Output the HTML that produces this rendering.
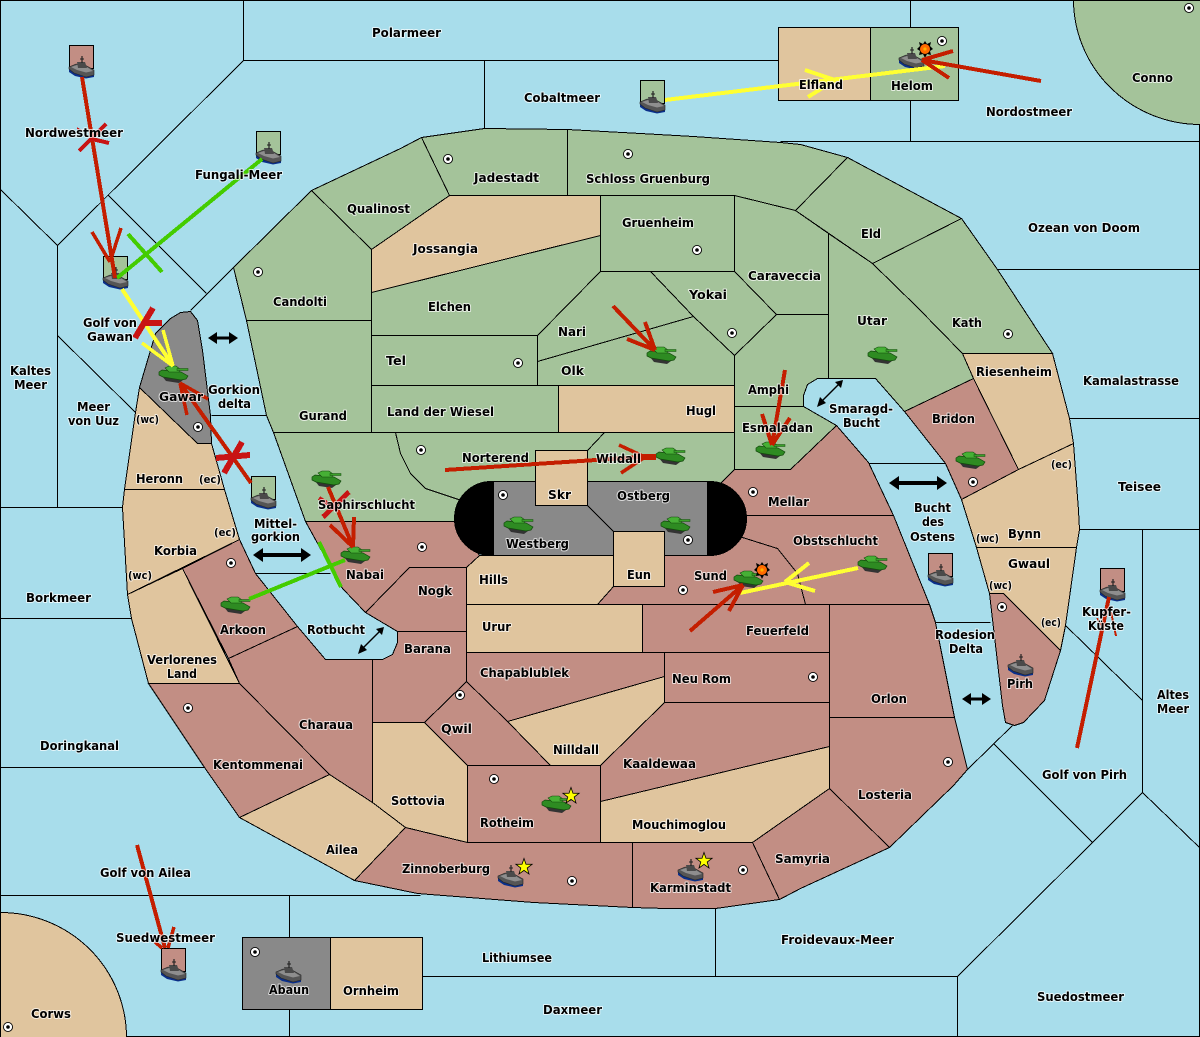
<!DOCTYPE html>
<html><head><meta charset="utf-8"><title>Map</title>
<style>
html,body{margin:0;padding:0;background:#a8ddeb}
svg{display:block}
.s{fill:none;stroke:#000;stroke-width:1}
.l polygon,.l path,.l rect{stroke:#000;stroke-width:1}
.g{fill:#a4c39a}.t{fill:#e0c59e}.r{fill:#c28e84}.y{fill:#898989}
.lab text{font:bold 12px "DejaVu Sans",sans-serif;fill:#000;paint-order:stroke;stroke:rgba(255,255,255,.7);stroke-width:2px;stroke-linejoin:round}
.lab text.m{font-size:10.5px}
.red line{stroke:#c41e00;stroke-width:4;stroke-linecap:butt}
.red line.b{stroke-width:3.5}
.cr line{stroke:#c81414;stroke-width:6}
.cr line.n{stroke-width:4}
.gr line{stroke:#44cc00;stroke-width:4}
.ye line{stroke:#ffff33;stroke-width:4}
.ye line.b{stroke-width:3.5}
</style></head><body>
<svg xmlns="http://www.w3.org/2000/svg" width="1200" height="1037" viewBox="0 0 1200 1037">
<defs>
<g id="tank">
<polygon points="3,10 23,13 24,14 20,17 7,15" fill="#333"/>
<polygon points="0,6 3,4 22,6 29,10 27,13 22,14 4,11 0,9" fill="#2e8b22" stroke="#134a0c" stroke-width=".7"/>
<polygon points="6,2 10,0 17,0 21,3 20,6 10,6" fill="#46b035" stroke="#134a0c" stroke-width=".6"/>
<rect x="18" y="2.500" width="11" height="2" fill="#3aa02a" stroke="#134a0c" stroke-width=".5"/>
</g>
<g id="ship">
<polygon points="0,13 5,17 17,21 25,19 25,21 17,22.500 6,20 0,16" fill="#0a2f8a"/>
<polygon points="0,11 7,8 16,9 25,14 25,19 17,21 5,17 0,13" fill="#555" stroke="#222" stroke-width=".6"/>
<polygon points="2,11 8,9 17,10.500 24,15 17,16.500 8,14" fill="#8e8e8e"/>
<polygon points="8,6 16,6 18,12 9,12" fill="#4a4a4a"/>
<line x1="13" y1="0" x2="13" y2="7" stroke="#222" stroke-width="1.200"/>
<line x1="11" y1="3" x2="15" y2="3" stroke="#222" stroke-width="1"/>
</g>
<g id="dot"><circle r="5" fill="#000"/><circle r="4.1" fill="#fff"/><circle r="1.8" fill="#000"/></g>
<polygon id="star" points="0,-8.500 2,-2.800 8.100,-2.700 3.200,1 5,7 0,3.400 -5,7 -3.200,1 -8.100,-2.700 -2,-2.800" fill="#ff0" stroke="#000" stroke-width=".8"/>
<g id="boom"><polygon points="0,-8 2,-5 6,-7 5,-3 8,0 5,2 6,6 2,5 0,9 -2,5 -6,6 -5,2 -8,0 -5,-3 -6,-7 -2,-5" fill="#000"/><circle r="5" fill="#ff6a00"/><circle r="1.6" fill="#ffb000"/></g>
</defs>

<rect width="1200" height="1037" fill="#a8ddeb"/>

<g transform="translate(.5 .5)" shape-rendering="crispEdges">
<g class="s">
<rect x="0" y="0" width="1199" height="1036"/>
<path d="M243 0V60H778"/><path d="M243 60L57 245V507"/><path d="M57 245L0 189"/>
<path d="M108 195L206 293"/><path d="M233 267L190 310"/>
<path d="M57 335L135 412"/><path d="M0 507H122"/><path d="M0 618H131"/><path d="M0 767H204"/>
<path d="M0 895H420"/><path d="M289 895V937M289 1009V1037"/>
<path d="M422 976H957V1037"/><path d="M715 908V976"/>
<path d="M957 976L1092 842L993 743"/><path d="M1092 842L1142 792L1200 848"/>
<path d="M1142 792V529"/><path d="M1078 529H1200"/>
<path d="M1065 625L1142 700"/><path d="M1069 418H1200"/><path d="M997 269H1200"/>
<path d="M780 141H1200"/><path d="M910 0V27M910 100V141"/><path d="M484 60V128"/>
<path d="M967 769L1012 725"/>
<path d="M935 622H990"/><path d="M868 463H945"/><path d="M211 415H266"/><path d="M255 573H330"/>
</g>

<g class="l">
<path class="g" d="M1073 0A127 125 0 0 0 1200 124V0Z"/>
<path class="t" d="M0 912A126 125 0 0 1 126 1037H0Z"/>
<rect class="t" x="778" y="27" width="92" height="73"/>
<rect class="g" x="870" y="27" width="88" height="73"/>
<rect class="y" x="242" y="937" width="88" height="72"/>
<rect class="t" x="330" y="937" width="92" height="72"/>

<polygon class="g" points="233,267 311,190 371,249 371,320 246,320"/>
<polygon class="g" points="311,190 400,148 421,137 449,195 371,249"/>
<polygon class="g" points="421,137 484,128 567,129 567,195 449,195"/>
<polygon class="g" points="567,129 640,133 693,136 780,142 800,144 847,157 795,210 734,195 567,195"/>
<polygon class="t" points="449,195 600,195 600,235 371,292 371,249"/>
<polygon class="g" points="600,195 734,195 734,271 600,271"/>
<polygon class="g" points="734,195 795,210 828,233 828,314 776,314 734,271"/>
<polygon class="g" points="847,157 961,218 872,263 795,210"/>
<polygon class="g" points="961,218 997,269 1052,353 962,353 917,307 872,263"/>
<polygon class="g" points="828,233 872,263 917,307 962,353 973,378 904,411 875,378 828,378"/>
<polygon class="g" points="776,314 828,314 828,378 817,378 807,384 803,395 803,406 734,406 734,355"/>
<polygon class="g" points="734,406 803,406 836,425 790,469 734,469"/>
<polygon class="g" points="650,271 734,271 776,314 734,355 693,316"/>
<polygon class="g" points="600,271 650,271 693,316 537,361 537,335"/>
<polygon class="g" points="537,361 693,316 734,355 734,385 537,385"/>
<polygon class="g" points="371,292 600,235 600,271 537,335 371,335"/>
<polygon class="g" points="371,335 537,335 537,385 371,385"/>
<polygon class="g" points="371,385 558,385 558,432 371,432"/>
<polygon class="t" points="558,385 734,385 734,432 558,432"/>
<polygon class="g" points="246,320 371,320 371,432 273,432 266,415"/>
<polygon class="g" points="273,432 395,432 400,453 410,473 425,488 458,499 490,510 460,521 305,521"/>
<polygon class="g" points="395,432 604,432 587,450 587,500 490,500 458,499 425,488 410,473 400,453"/>
<polygon class="g" points="604,432 734,432 734,469 722,481 700,500 587,500 587,450"/>

<polygon class="r" points="722,481 734,469 790,469 836,425 868,462 893,515 746,515 700,515 700,500"/>
<polygon class="r" points="746,515 893,515 929,604 805,604 797,573 777,548 742,537 700,530"/>
<polygon class="r" points="597,604 613,586 664,586 664,545 742,537 777,548 797,573 805,604"/>
<polygon class="r" points="305,521 460,521 479,555 466,567 409,567 365,612 342,588"/>
<polygon class="t" points="466,567 479,555 613,555 613,586 597,604 466,604"/>
<polygon class="t" points="466,604 642,604 642,652 466,652"/>
<polygon class="r" points="642,604 829,604 829,652 642,652"/>
<polygon class="r" points="409,567 466,567 466,631 397,631 365,612"/>
<polygon class="r" points="397,631 466,631 466,681 424,722 372,722 372,659 382,659 392,654 397,642"/>
<polygon class="r" points="466,652 664,652 664,676 507,721 466,681"/>
<polygon class="r" points="664,652 829,652 829,702 664,702"/>
<polygon class="t" points="507,721 664,676 664,702 600,765 550,765"/>
<polygon class="r" points="466,681 507,721 550,765 467,765 424,722"/>
<polygon class="r" points="664,702 829,702 829,746 600,801 600,765"/>
<polygon class="t" points="600,801 829,746 829,788 752,842 600,842"/>
<polygon class="r" points="467,765 600,765 600,842 467,842"/>
<polygon class="t" points="372,722 424,722 467,765 467,842 405,827 372,802"/>
<polygon class="r" points="182,568 239,539 255,573 297,626 228,658"/>
<polygon class="r" points="228,658 297,626 325,659 372,659 372,802 329,774 239,683"/>
<polygon class="r" points="148,683 239,683 329,774 239,817 204,767"/>
<polygon class="t" points="239,817 329,774 372,802 405,827 354,880"/>
<polygon class="r" points="354,880 405,827 467,842 632,842 632,907 533,902 417,893"/>
<polygon class="r" points="632,842 752,842 779,899 715,908 665,908 632,907"/>
<polygon class="r" points="752,842 829,788 889,847 800,888 779,899"/>
<polygon class="r" points="829,717 954,717 967,769 953,785 889,847 829,788"/>
<polygon class="r" points="829,604 929,604 935,622 954,717 829,717"/>

<polygon class="t" points="127,594 182,568 239,683 148,683 131,618"/>
<polygon class="t" points="122,507 124,489 224,489 239,539 127,594"/>
<polygon class="t" points="139,387 197,443 211,443 224,489 124,489 135,412"/>
<polygon class="y" points="139,387 155,333 170,318 180,312 190,311 197,320 202,350 210,415 211,443 197,443"/>

<polygon class="t" points="962,353 1052,353 1069,418 1073,443 1018,469 973,378"/>
<polygon class="r" points="904,411 973,378 1018,469 961,499 945,463"/>
<polygon class="t" points="961,499 1018,469 1073,443 1078,510 1079,529 1076,547 976,547"/>
<polygon class="t" points="976,547 1076,547 1065,625 1060,650 1003,593 989,593"/>
<polygon class="r" points="989,593 1003,593 1060,650 1044,700 1023,722 1014,725 1005,722 1002,705"/>

<rect x="454" y="481" width="292" height="74" rx="37" ry="37" fill="#000" stroke="#000"/>
<rect class="y" x="493" y="481" width="214" height="74"/>
<path d="M587 505L613 531" fill="none"/>
<rect class="t" x="535" y="450" width="52" height="55"/>
<rect class="t" x="613" y="531" width="51" height="55"/>
</g>

<g class="l">
<rect class="r" x="69" y="45" width="24" height="23"/>
<rect class="g" x="256" y="131" width="24" height="23"/>
<rect class="g" x="103" y="256" width="24" height="23"/>
<rect class="g" x="640" y="80" width="24" height="23"/>
<rect class="g" x="251" y="476" width="24" height="23"/>
<rect class="r" x="928" y="553" width="24" height="23"/>
<rect class="r" x="1100" y="568" width="24" height="23"/>
<rect class="r" x="161" y="948" width="24" height="23"/>
</g>
</g>

<g>
<use href="#dot" x="258" y="272"/><use href="#dot" x="448" y="159"/><use href="#dot" x="628" y="154"/>
<use href="#dot" x="697" y="250"/><use href="#dot" x="732" y="333"/><use href="#dot" x="942" y="41"/>
<use href="#dot" x="1189" y="8"/><use href="#dot" x="1008" y="334"/><use href="#dot" x="518" y="363"/>
<use href="#dot" x="421" y="450"/><use href="#dot" x="503" y="495"/><use href="#dot" x="688" y="540"/>
<use href="#dot" x="753" y="492"/><use href="#dot" x="422" y="547"/><use href="#dot" x="683" y="590"/>
<use href="#dot" x="198" y="427"/><use href="#dot" x="231" y="563"/><use href="#dot" x="460" y="695"/>
<use href="#dot" x="188" y="708"/><use href="#dot" x="813" y="677"/><use href="#dot" x="948" y="762"/>
<use href="#dot" x="973" y="482"/><use href="#dot" x="1002" y="607"/><use href="#dot" x="494" y="779"/>
<use href="#dot" x="572" y="881"/><use href="#dot" x="743" y="870"/><use href="#dot" x="255" y="952"/>
<use href="#dot" x="8" y="1027"/>
</g>

<g>
<use href="#tank" x="159" y="366"/><use href="#tank" x="312" y="471"/><use href="#tank" x="341" y="547"/>
<use href="#tank" x="221" y="597"/><use href="#tank" x="504" y="517"/><use href="#tank" x="661" y="517"/>
<use href="#tank" x="656" y="448"/><use href="#tank" x="756" y="442"/><use href="#tank" x="647" y="347"/>
<use href="#tank" x="868" y="347"/><use href="#tank" x="956" y="452"/><use href="#tank" x="858" y="556"/>
<use href="#tank" x="734" y="571"/><use href="#tank" x="542" y="796"/>
<use href="#ship" x="69" y="56"/><use href="#ship" x="256" y="142"/><use href="#ship" x="103" y="267"/>
<use href="#ship" x="640" y="91"/><use href="#ship" x="899" y="47"/><use href="#ship" x="251" y="487"/>
<use href="#ship" x="928" y="564"/><use href="#ship" x="1100" y="579"/><use href="#ship" x="1008" y="654"/>
<use href="#ship" x="161" y="959"/><use href="#ship" x="276" y="961"/><use href="#ship" x="498" y="865"/>
<use href="#ship" x="678" y="859"/>
</g>
<use href="#star" x="571" y="796"/><use href="#star" x="524" y="867"/><use href="#star" x="704" y="861"/>
<use href="#boom" x="925" y="49"/><use href="#boom" x="762" y="570"/>

<g shape-rendering="crispEdges">
<g class="ye">
<line x1="122" y1="289" x2="173" y2="366"/><line class="b" x1="142" y1="343" x2="173" y2="366"/><line class="b" x1="163" y1="330" x2="173" y2="366"/>
<line x1="858" y1="568" x2="740" y2="593"/><line x1="809" y1="563" x2="785" y2="582"/><line x1="815" y1="591" x2="785" y2="582"/>
<line x1="665" y1="100" x2="945" y2="66"/><line x1="805" y1="70" x2="835" y2="80"/><line x1="808" y1="97" x2="835" y2="80"/>
</g>
<g class="gr">
<line x1="262" y1="159" x2="117" y2="278"/><line x1="128" y1="234" x2="162" y2="272"/>
<line x1="249" y1="599" x2="345" y2="560"/><line x1="319" y1="542" x2="341" y2="587"/>
</g>
<g class="red">
<line x1="82" y1="77" x2="115" y2="278"/><line class="b" x1="92" y1="232" x2="110" y2="262"/><line class="b" x1="121" y1="228" x2="110" y2="262"/>
<line x1="251" y1="483" x2="180" y2="383"/><line class="b" x1="187" y1="415" x2="180" y2="383"/><line class="b" x1="208" y1="399" x2="180" y2="383"/>
<line x1="328" y1="487" x2="353" y2="547"/><line x1="330" y1="525" x2="353" y2="547"/><line x1="354" y1="517" x2="353" y2="547"/>
<line x1="613" y1="306" x2="655" y2="350"/><line x1="645" y1="322" x2="655" y2="350"/><line x1="627" y1="339" x2="655" y2="350"/>
<line x1="445" y1="470" x2="656" y2="456"/><line class="b" x1="619" y1="445" x2="645" y2="457"/><line class="b" x1="621" y1="473" x2="645" y2="457"/>
<line x1="641" y1="457" x2="656" y2="457" style="stroke-width:6"/>
<line x1="785" y1="370" x2="772" y2="445"/><line x1="762" y1="414" x2="772" y2="445"/><line x1="790" y1="418" x2="772" y2="445"/>
<line x1="690" y1="631" x2="743" y2="585"/><line x1="713" y1="592" x2="743" y2="585"/><line x1="729" y1="611" x2="743" y2="585"/>
<line x1="1041" y1="81" x2="922" y2="60"/><line x1="953" y1="51" x2="922" y2="60"/><line x1="949" y1="78" x2="922" y2="60"/>
<line x1="1077" y1="748" x2="1109" y2="597"/><line class="b" x1="1097" y1="618" x2="1104" y2="630" style="stroke-width:1.500"/><line class="b" x1="1111" y1="612" x2="1116" y2="636" style="stroke-width:2"/>
<line x1="137" y1="845" x2="165" y2="948"/><line class="b" x1="155" y1="942" x2="162" y2="948"/><line class="b" x1="174" y1="927" x2="168" y2="948"/>
</g>
<g class="cr">
<line class="n" x1="79" y1="151" x2="106" y2="124"/><line class="n" x1="92" y1="139" x2="109" y2="143"/><line class="n" x1="77" y1="128" x2="82" y2="131" style="stroke-width:1.500"/>
<line x1="153" y1="308" x2="135" y2="338"/><line x1="142" y1="323" x2="162" y2="323"/>
<line x1="242" y1="442" x2="224" y2="473"/><line x1="216" y1="458" x2="250" y2="455"/>
<line class="n" x1="349" y1="492" x2="323" y2="517" style="stroke-width:5"/><line class="n" x1="319" y1="498" x2="338" y2="510"/>
</g>
</g>

<g fill="#000">
<path d="M208 338l9-6v4.500h12v-4.500l9 6-9 6v-4.500h-12v4.500z"/>
<path d="M253 555l10-7v5h38v-5l10 7-10 7v-5h-38v5z"/>
<path d="M889 483l10-7v5h38v-5l10 7-10 7v-5h-38v5z"/>
<path d="M962 699l9-6v4.500h11v-4.500l9 6-9 6v-4.500h-11v4.500z"/>
<path d="M358 654l3-10 2.500 2.500 15-15-2.500-2.500 8-2-2 8-2.500-2.500-15 15 2.500 2.500z"/>
<path d="M817 407l3-10 2.500 2.500 15-15-2.500-2.500 8-2-2 8-2.500-2.500-15 15 2.500 2.500z"/>
</g>

<g class="lab">
<text x="372" y="37" textLength="69" lengthAdjust="spacingAndGlyphs">Polarmeer</text>
<text x="524" y="102" textLength="76" lengthAdjust="spacingAndGlyphs">Cobaltmeer</text>
<text x="986" y="116" textLength="86" lengthAdjust="spacingAndGlyphs">Nordostmeer</text>
<text x="1132" y="82" textLength="41" lengthAdjust="spacingAndGlyphs">Conno</text>
<text x="799" y="89" textLength="44" lengthAdjust="spacingAndGlyphs">Elfland</text>
<text x="891" y="90" textLength="42" lengthAdjust="spacingAndGlyphs">Helom</text>
<text x="25" y="137" textLength="98" lengthAdjust="spacingAndGlyphs">Nordwestmeer</text>
<text x="195" y="179" textLength="87" lengthAdjust="spacingAndGlyphs">Fungali-Meer</text>
<text x="474" y="182" textLength="65" lengthAdjust="spacingAndGlyphs">Jadestadt</text>
<text x="586" y="183" textLength="124" lengthAdjust="spacingAndGlyphs">Schloss Gruenburg</text>
<text x="347" y="213" textLength="63" lengthAdjust="spacingAndGlyphs">Qualinost</text>
<text x="861" y="238" textLength="20" lengthAdjust="spacingAndGlyphs">Eld</text>
<text x="622" y="227" textLength="72" lengthAdjust="spacingAndGlyphs">Gruenheim</text>
<text x="413" y="253" textLength="65" lengthAdjust="spacingAndGlyphs">Jossangia</text>
<text x="1028" y="232" textLength="112" lengthAdjust="spacingAndGlyphs">Ozean von Doom</text>
<text x="748" y="280" textLength="73" lengthAdjust="spacingAndGlyphs">Caraveccia</text>
<text x="689" y="299" textLength="38" lengthAdjust="spacingAndGlyphs">Yokai</text>
<text x="273" y="306" textLength="54" lengthAdjust="spacingAndGlyphs">Candolti</text>
<text x="428" y="311" textLength="43" lengthAdjust="spacingAndGlyphs">Elchen</text>
<text x="558" y="336" textLength="28" lengthAdjust="spacingAndGlyphs">Nari</text>
<text x="857" y="325" textLength="30" lengthAdjust="spacingAndGlyphs">Utar</text>
<text x="952" y="327" textLength="30" lengthAdjust="spacingAndGlyphs">Kath</text>
<text x="83" y="327" textLength="54" lengthAdjust="spacingAndGlyphs">Golf von</text>
<text x="87" y="341" textLength="46" lengthAdjust="spacingAndGlyphs">Gawan</text>
<text x="386" y="365" textLength="20" lengthAdjust="spacingAndGlyphs">Tel</text>
<text x="561" y="375" textLength="23" lengthAdjust="spacingAndGlyphs">Olk</text>
<text x="686" y="415" textLength="30" lengthAdjust="spacingAndGlyphs">Hugl</text>
<text x="748" y="394" textLength="41" lengthAdjust="spacingAndGlyphs">Amphi</text>
<text x="976" y="376" textLength="76" lengthAdjust="spacingAndGlyphs">Riesenheim</text>
<text x="1083" y="385" textLength="96" lengthAdjust="spacingAndGlyphs">Kamalastrasse</text>
<text x="10" y="375" textLength="41" lengthAdjust="spacingAndGlyphs">Kaltes</text>
<text x="14" y="389" textLength="33" lengthAdjust="spacingAndGlyphs">Meer</text>
<text x="77" y="411" textLength="33" lengthAdjust="spacingAndGlyphs">Meer</text>
<text x="68" y="425" textLength="51" lengthAdjust="spacingAndGlyphs">von Uuz</text>
<text x="159" y="401" textLength="44" lengthAdjust="spacingAndGlyphs">Gawar</text>
<text x="208" y="394" textLength="52" lengthAdjust="spacingAndGlyphs">Gorkion</text>
<text x="218" y="408" textLength="33" lengthAdjust="spacingAndGlyphs">delta</text>
<text x="299" y="420" textLength="48" lengthAdjust="spacingAndGlyphs">Gurand</text>
<text x="387" y="416" textLength="107" lengthAdjust="spacingAndGlyphs">Land der Wiesel</text>
<text class="m" x="136" y="423" textLength="23" lengthAdjust="spacingAndGlyphs">(wc)</text>
<text x="136" y="483" textLength="47" lengthAdjust="spacingAndGlyphs">Heronn</text>
<text class="m" x="199" y="483" textLength="22" lengthAdjust="spacingAndGlyphs">(ec)</text>
<text x="932" y="423" textLength="43" lengthAdjust="spacingAndGlyphs">Bridon</text>
<text x="829" y="413" textLength="64" lengthAdjust="spacingAndGlyphs">Smaragd-</text>
<text x="843" y="427" textLength="37" lengthAdjust="spacingAndGlyphs">Bucht</text>
<text x="742" y="432" textLength="71" lengthAdjust="spacingAndGlyphs">Esmaladan</text>
<text x="462" y="462" textLength="67" lengthAdjust="spacingAndGlyphs">Norterend</text>
<text x="596" y="463" textLength="45" lengthAdjust="spacingAndGlyphs">Wildall</text>
<text x="548" y="499" textLength="23" lengthAdjust="spacingAndGlyphs">Skr</text>
<text x="617" y="500" textLength="53" lengthAdjust="spacingAndGlyphs">Ostberg</text>
<text x="318" y="509" textLength="97" lengthAdjust="spacingAndGlyphs">Saphirschlucht</text>
<text x="768" y="506" textLength="41" lengthAdjust="spacingAndGlyphs">Mellar</text>
<text x="506" y="548" textLength="63" lengthAdjust="spacingAndGlyphs">Westberg</text>
<text x="254" y="528" textLength="43" lengthAdjust="spacingAndGlyphs">Mittel-</text>
<text x="251" y="541" textLength="49" lengthAdjust="spacingAndGlyphs">gorkion</text>
<text x="154" y="555" textLength="43" lengthAdjust="spacingAndGlyphs">Korbia</text>
<text class="m" x="214" y="536" textLength="22" lengthAdjust="spacingAndGlyphs">(ec)</text>
<text class="m" x="128" y="579" textLength="24" lengthAdjust="spacingAndGlyphs">(wc)</text>
<text x="346" y="579" textLength="38" lengthAdjust="spacingAndGlyphs">Nabai</text>
<text x="479" y="584" textLength="29" lengthAdjust="spacingAndGlyphs">Hills</text>
<text x="418" y="595" textLength="34" lengthAdjust="spacingAndGlyphs">Nogk</text>
<text x="26" y="602" textLength="65" lengthAdjust="spacingAndGlyphs">Borkmeer</text>
<text x="627" y="579" textLength="24" lengthAdjust="spacingAndGlyphs">Eun</text>
<text x="694" y="580" textLength="33" lengthAdjust="spacingAndGlyphs">Sund</text>
<text x="793" y="545" textLength="85" lengthAdjust="spacingAndGlyphs">Obstschlucht</text>
<text x="914" y="512" textLength="37" lengthAdjust="spacingAndGlyphs">Bucht</text>
<text x="922" y="526" textLength="22" lengthAdjust="spacingAndGlyphs">des</text>
<text x="910" y="541" textLength="45" lengthAdjust="spacingAndGlyphs">Ostens</text>
<text x="1008" y="538" textLength="33" lengthAdjust="spacingAndGlyphs">Bynn</text>
<text class="m" x="976" y="542" textLength="23" lengthAdjust="spacingAndGlyphs">(wc)</text>
<text class="m" x="1051" y="468" textLength="21" lengthAdjust="spacingAndGlyphs">(ec)</text>
<text x="1118" y="491" textLength="43" lengthAdjust="spacingAndGlyphs">Teisee</text>
<text x="1008" y="568" textLength="42" lengthAdjust="spacingAndGlyphs">Gwaul</text>
<text class="m" x="989" y="589" textLength="23" lengthAdjust="spacingAndGlyphs">(wc)</text>
<text class="m" x="1041" y="626" textLength="20" lengthAdjust="spacingAndGlyphs">(ec)</text>
<text x="1082" y="616" textLength="49" lengthAdjust="spacingAndGlyphs">Kupfer-</text>
<text x="1088" y="630" textLength="36" lengthAdjust="spacingAndGlyphs">Küste</text>
<text x="935" y="639" textLength="60" lengthAdjust="spacingAndGlyphs">Rodesion</text>
<text x="949" y="653" textLength="34" lengthAdjust="spacingAndGlyphs">Delta</text>
<text x="1007" y="688" textLength="26" lengthAdjust="spacingAndGlyphs">Pirh</text>
<text x="746" y="635" textLength="63" lengthAdjust="spacingAndGlyphs">Feuerfeld</text>
<text x="482" y="631" textLength="29" lengthAdjust="spacingAndGlyphs">Urur</text>
<text x="404" y="653" textLength="47" lengthAdjust="spacingAndGlyphs">Barana</text>
<text x="307" y="634" textLength="58" lengthAdjust="spacingAndGlyphs">Rotbucht</text>
<text x="220" y="634" textLength="46" lengthAdjust="spacingAndGlyphs">Arkoon</text>
<text x="147" y="664" textLength="70" lengthAdjust="spacingAndGlyphs">Verlorenes</text>
<text x="167" y="678" textLength="30" lengthAdjust="spacingAndGlyphs">Land</text>
<text x="480" y="677" textLength="89" lengthAdjust="spacingAndGlyphs">Chapablublek</text>
<text x="672" y="683" textLength="59" lengthAdjust="spacingAndGlyphs">Neu Rom</text>
<text x="1157" y="699" textLength="32" lengthAdjust="spacingAndGlyphs">Altes</text>
<text x="1157" y="713" textLength="32" lengthAdjust="spacingAndGlyphs">Meer</text>
<text x="871" y="703" textLength="36" lengthAdjust="spacingAndGlyphs">Orlon</text>
<text x="441" y="733" textLength="31" lengthAdjust="spacingAndGlyphs">Qwil</text>
<text x="299" y="729" textLength="54" lengthAdjust="spacingAndGlyphs">Charaua</text>
<text x="553" y="754" textLength="46" lengthAdjust="spacingAndGlyphs">Nilldall</text>
<text x="40" y="750" textLength="79" lengthAdjust="spacingAndGlyphs">Doringkanal</text>
<text x="213" y="769" textLength="90" lengthAdjust="spacingAndGlyphs">Kentommenai</text>
<text x="623" y="768" textLength="73" lengthAdjust="spacingAndGlyphs">Kaaldewaa</text>
<text x="1042" y="779" textLength="85" lengthAdjust="spacingAndGlyphs">Golf von Pirh</text>
<text x="858" y="799" textLength="54" lengthAdjust="spacingAndGlyphs">Losteria</text>
<text x="391" y="805" textLength="54" lengthAdjust="spacingAndGlyphs">Sottovia</text>
<text x="480" y="827" textLength="54" lengthAdjust="spacingAndGlyphs">Rotheim</text>
<text x="632" y="829" textLength="94" lengthAdjust="spacingAndGlyphs">Mouchimoglou</text>
<text x="326" y="854" textLength="32" lengthAdjust="spacingAndGlyphs">Ailea</text>
<text x="775" y="863" textLength="55" lengthAdjust="spacingAndGlyphs">Samyria</text>
<text x="402" y="873" textLength="88" lengthAdjust="spacingAndGlyphs">Zinnoberburg</text>
<text x="100" y="877" textLength="91" lengthAdjust="spacingAndGlyphs">Golf von Ailea</text>
<text x="650" y="892" textLength="81" lengthAdjust="spacingAndGlyphs">Karminstadt</text>
<text x="781" y="944" textLength="113" lengthAdjust="spacingAndGlyphs">Froidevaux-Meer</text>
<text x="116" y="942" textLength="99" lengthAdjust="spacingAndGlyphs">Suedwestmeer</text>
<text x="482" y="962" textLength="70" lengthAdjust="spacingAndGlyphs">Lithiumsee</text>
<text x="269" y="994" textLength="40" lengthAdjust="spacingAndGlyphs">Abaun</text>
<text x="343" y="995" textLength="56" lengthAdjust="spacingAndGlyphs">Ornheim</text>
<text x="1037" y="1001" textLength="87" lengthAdjust="spacingAndGlyphs">Suedostmeer</text>
<text x="543" y="1014" textLength="59" lengthAdjust="spacingAndGlyphs">Daxmeer</text>
<text x="31" y="1018" textLength="40" lengthAdjust="spacingAndGlyphs">Corws</text>
</g>
</svg>
</body></html>
